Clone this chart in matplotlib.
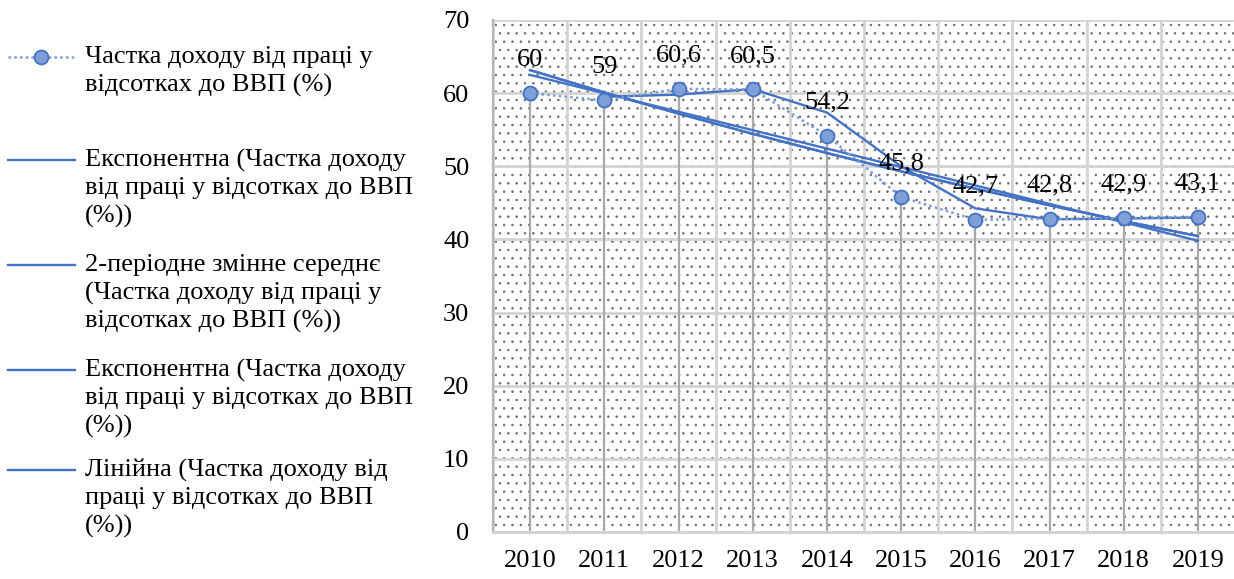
import numpy as np
import matplotlib
matplotlib.use("Agg")
import matplotlib.pyplot as plt
from matplotlib.lines import Line2D
from matplotlib.patches import Rectangle

plt.rcParams['font.family'] = ['Liberation Serif', 'DejaVu Serif']
plt.rcParams['hatch.linewidth'] = 0.55

years = ['2010', '2011', '2012', '2013', '2014', '2015', '2016', '2017', '2018', '2019']
share = [60, 59, 60.6, 60.5, 54.2, 45.8, 42.7, 42.8, 42.9, 43.1]
value_labels = ['60', '59', '60,6', '60,5', '54,2', '45,8', '42,7', '42,8', '42,9', '43,1']

legend_labels = [
    ['Частка доходу від праці у', 'відсотках до ВВП (%)'],
    ['Експонентна (Частка доходу', 'від праці у відсотках до ВВП', '(%))'],
    ['2-періодне змінне середнє', '(Частка доходу від праці у', 'відсотках до ВВП (%))'],
    ['Експонентна (Частка доходу', 'від праці у відсотках до ВВП', '(%))'],
    ['Лінійна (Частка доходу від', 'праці у відсотках до ВВП', '(%))'],
]

BLUE = '#4472C4'
DOT_BLUE = '#7b9bd8'
FS = 19
LW = 1.7

x = np.arange(len(years))
y = np.array(share)
xn = x + 1  # excel numbers categories from 1

# trendlines
b, a = np.polyfit(xn, np.log(y), 1)
expo = np.exp(a) * np.exp(b * xn)
k, c = np.polyfit(xn, y, 1)
linear = k * xn + c
mov_avg = (y[1:] + y[:-1]) / 2

W, H = 1234, 579
fig = plt.figure(figsize=(W / 100, H / 100), dpi=100)
ax = fig.add_axes([493 / W, 1 - 532 / H, 742 / W, 512 / H])

ax.set_xlim(-0.5, len(years) - 0.5)
ax.set_ylim(0, 70)

# dotted pattern background
ax.add_patch(Rectangle((0, 0), 1, 1, transform=ax.transAxes, facecolor='white',
                       edgecolor='#6a6a6a', hatch='..', linewidth=0, zorder=0))

ax.set_yticks(np.arange(0, 71, 10))
ax.set_xticks(x)
ax.set_xticklabels(years)
ax.set_xticks(np.arange(-0.5, len(years)), minor=True)
ax.grid(axis='y', which='major', color='#d4d4d4', lw=2, zorder=1)
ax.grid(axis='x', which='minor', color='#d4d4d4', lw=2, zorder=1)
ax.tick_params(axis='both', which='both', length=0, labelsize=FS)
ax.tick_params(axis='y', pad=17)
ax.tick_params(axis='x', pad=13)

for s in ['top', 'right']:
    ax.spines[s].set_visible(False)
ax.spines['left'].set_color('#b5b5b5')
ax.spines['left'].set_linewidth(1.6)
ax.spines['bottom'].set_color('#d4d4d4')
ax.spines['bottom'].set_linewidth(2.2)

# drop lines
ax.vlines(x, 0, y, color='#a8a8a8', lw=1.6, zorder=2)

ax.plot(x, expo, color=BLUE, lw=LW, zorder=3)
ax.plot(x[1:], mov_avg, color=BLUE, lw=LW, zorder=3)
ax.plot(x, expo, color=BLUE, lw=LW, zorder=3)
ax.plot(x, linear, color=BLUE, lw=LW, zorder=3)
ax.plot(x, y, color=DOT_BLUE, lw=1.8, ls=(0, (1, 1.3)), zorder=4)
ax.plot(x, y, ls='none', marker='o', ms=10, mfc='#7f9fd8', mec=BLUE, mew=1.3, zorder=5)

for xi, yi, t in zip(x, y, value_labels):
    ax.annotate(t, (xi, yi), xytext=(0, 24), textcoords='offset points',
                ha='center', va='center', fontsize=FS, zorder=6)

# legend drawn on the figure
item_tops = [57, 160, 265, 370, 470]
for i, (top, lines) in enumerate(zip(item_tops, legend_labels)):
    yy = 1 - top / H
    if i == 0:
        fig.add_artist(Line2D([8 / W, 75 / W], [yy, yy], color=DOT_BLUE, lw=1.8,
                              ls=(0, (1, 1.3))))
        fig.add_artist(Line2D([41 / W], [yy], ls='none', marker='o', ms=10,
                              mfc='#7f9fd8', mec=BLUE, mew=1.3))
    else:
        fig.add_artist(Line2D([8 / W, 75 / W], [yy, yy], color=BLUE, lw=LW))
    for j, line in enumerate(lines):
        fig.text(85 / W, 1 - (top + 28 * j) / H, line, fontsize=FS,
                 ha='left', va='center')

fig.savefig('out.png', dpi=100)
